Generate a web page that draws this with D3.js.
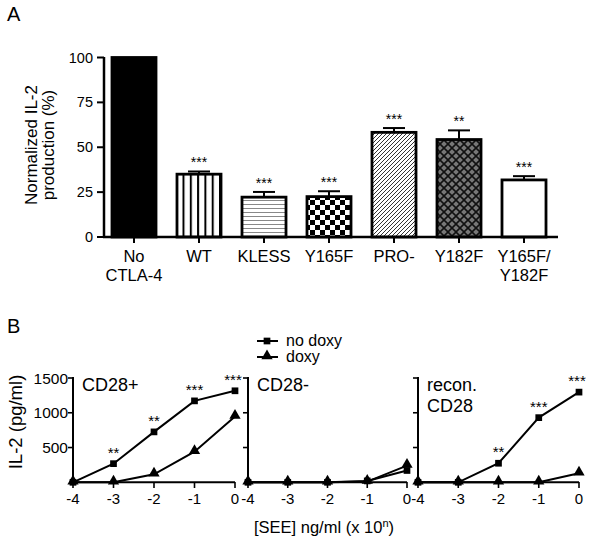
<!DOCTYPE html>
<html><head><meta charset="utf-8">
<script src="https://cdn.jsdelivr.net/npm/d3@7"></script>
<style>body{margin:0;background:#fff}text{font-family:"Liberation Sans",Arial,sans-serif;fill:#000}</style>
</head><body><svg id="c" width="600" height="541"></svg>
<script>
// ---- Panel A data ----
const categories = ["No\nCTLA-4","WT","KLESS","Y165F","PRO-","Y182F","Y165F/\nY182F"];
const values = [100, 35, 22.2, 22.5, 58.3, 54.3, 31.8];
const errors = [0, 1.5, 2.9, 3.0, 2.4, 5.1, 2.1];
const stars = ["", "***", "***", "***", "***", "**", "***"];
const patterns = ["solid","vert","horiz","check","diag","cross","none"];
const yTicksA = [0, 25, 50, 75, 100];

// ---- Panel B data ----
const xB = [-4, -3, -2, -1, 0];
const yTicksB = [500, 1000, 1500];
const panels = ["CD28+", "CD28-", "recon.\nCD28"];
const noDoxy = [
  [0, 268, 725, 1171, 1316],
  [0, 0, 0, 20, 170],
  [0, 0, 274, 930, 1297]
];
const doxy = [
  [0, 0, 115, 441, 945],
  [0, 0, 0, 10, 240],
  [0, 0, 0, 0, 130]
];
const starsB = [
  ["", "**", "**", "***", "***"],
  ["", "", "", "", ""],
  ["", "", "**", "***", "***"]
];

const svg = d3.select("#c");
const defs = svg.append("defs");

function pat(id, w, h, draw){
  const p = defs.append("pattern").attr("id", id).attr("patternUnits","userSpaceOnUse").attr("width", w).attr("height", h);
  draw(p);
}
pat("vert", 7.3, 10, p => {
  p.append("rect").attr("width",7.3).attr("height",10).attr("fill","#fff");
  p.append("rect").attr("x",0).attr("width",2).attr("height",10).attr("fill","#000");
});
pat("horiz", 10, 4, p => {
  p.append("rect").attr("width",10).attr("height",4).attr("fill","#fff");
  p.append("rect").attr("y",0).attr("width",10).attr("height",1).attr("fill","#888");
});
pat("check", 10, 10, p => {
  p.append("rect").attr("width",10).attr("height",10).attr("fill","#fff");
  p.append("rect").attr("width",5).attr("height",5).attr("fill","#000");
  p.append("rect").attr("x",5).attr("y",5).attr("width",5).attr("height",5).attr("fill","#000");
});
pat("diag", 4, 4, p => {
  p.append("rect").attr("width",4).attr("height",4).attr("fill","#fff");
  p.append("path").attr("d","M-1,1 l2,-2 M0,4 l4,-4 M3,5 l2,-2").attr("stroke","#333").attr("stroke-width",1);
});
pat("cross", 8, 8, p => {
  p.append("rect").attr("width",8).attr("height",8).attr("fill","#777");
  p.append("path").attr("d","M0,0 L8,8 M8,0 L0,8").attr("stroke","#111").attr("stroke-width",1.6);
});

const fillFor = k => k === "solid" ? "#000" : k === "none" ? "#fff" : `url(#${k})`;

// ---- Panel A ----
svg.append("text").attr("x", 7).attr("y", 21).attr("font-size", 20).text("A");

const yA = d3.scaleLinear().domain([0, 100]).range([237, 57.5]);
const xA = d3.scaleBand().domain(categories).range([101.5, 556.5]).paddingInner(0.323).paddingOuter(0.1615);

const gA = svg.append("g");
gA.selectAll("rect.bar").data(categories).join("rect")
  .attr("x", d => xA(d)).attr("width", xA.bandwidth())
  .attr("y", (d,i) => yA(values[i])).attr("height", (d,i) => yA(0) - yA(values[i]))
  .attr("fill", (d,i) => fillFor(patterns[i]))
  .attr("stroke", "#000").attr("stroke-width", 2.8);

categories.forEach((c, i) => {
  const cx = xA(c) + xA.bandwidth()/2;
  if (errors[i] > 0) {
    gA.append("line").attr("x1", cx).attr("x2", cx).attr("y1", yA(values[i])).attr("y2", yA(values[i] + errors[i])).attr("stroke","#000").attr("stroke-width",2);
    gA.append("line").attr("x1", cx-11).attr("x2", cx+11).attr("y1", yA(values[i] + errors[i])).attr("y2", yA(values[i] + errors[i])).attr("stroke","#000").attr("stroke-width",2);
  }
  if (stars[i]) {
    gA.append("text").attr("x", cx).attr("y", yA(values[i] + errors[i]) - 4).attr("text-anchor","middle").attr("font-size",14).text(stars[i]);
  }
  c.split("\n").forEach((l, j) => {
    gA.append("text").attr("x", cx).attr("y", 262 + j*19).attr("text-anchor","middle").attr("font-size",16.5).text(l);
  });
  gA.append("line").attr("x1", cx).attr("x2", cx).attr("y1", 237).attr("y2", 243).attr("stroke","#000").attr("stroke-width",2);
});

gA.append("line").attr("x1", 104).attr("x2", 104).attr("y1", 57).attr("y2", 238).attr("stroke","#000").attr("stroke-width",2.5);
gA.append("line").attr("x1", 103).attr("x2", 558).attr("y1", 237).attr("y2", 237).attr("stroke","#000").attr("stroke-width",2.5);
yTicksA.forEach(t => {
  gA.append("line").attr("x1", 97).attr("x2", 104).attr("y1", yA(t)).attr("y2", yA(t)).attr("stroke","#000").attr("stroke-width",2);
  gA.append("text").attr("x", 93).attr("y", yA(t) + 5).attr("text-anchor","end").attr("font-size",14.5).text(t);
});
["Normalized IL-2", "production (%)"].forEach((t, j) => {
  gA.append("text").attr("transform", `translate(${37 + j*17},145) rotate(-90)`).attr("text-anchor","middle").attr("font-size",17).text(t);
});

// ---- Panel B ----
svg.append("text").attr("x", 7).attr("y", 333).attr("font-size", 20).text("B");

const panelX = [[73, 235], [248, 407], [418, 579]];
const yB = d3.scaleLinear().domain([0, 1500]).range([482.3, 378]);
const sqSym = d3.symbol().type(d3.symbolSquare).size(45);
const triSym = d3.symbol().type(d3.symbolTriangle).size(55);

panels.forEach((name, p) => {
  const xs = d3.scaleLinear().domain([-4, 0]).range(panelX[p]);
  const g = svg.append("g");
  g.append("line").attr("x1", panelX[p][0]).attr("x2", panelX[p][0]).attr("y1", 377).attr("y2", 483).attr("stroke","#000").attr("stroke-width",2);
  yTicksB.forEach(t => {
    g.append("line").attr("x1", panelX[p][0]-5).attr("x2", panelX[p][0]).attr("y1", yB(t)).attr("y2", yB(t)).attr("stroke","#000").attr("stroke-width",1.6);
    if (p === 0) g.append("text").attr("x", panelX[p][0]-5).attr("y", yB(t)+5.5).attr("text-anchor","end").attr("font-size",15.5).text(t);
  });
  g.append("line").attr("x1", panelX[p][0]).attr("x2", panelX[p][1]).attr("y1", 482.3).attr("y2", 482.3).attr("stroke","#000").attr("stroke-width",2);
  xB.forEach(v => {
    g.append("line").attr("x1", xs(v)).attr("x2", xs(v)).attr("y1", 482).attr("y2", 488).attr("stroke","#000").attr("stroke-width",1.6);
    g.append("text").attr("x", xs(v)).attr("y", 504).attr("text-anchor","middle").attr("font-size",15).text(v);
  });
  const line = d3.line().x((d,i) => xs(xB[i])).y(d => yB(d));
  g.append("path").attr("d", line(doxy[p])).attr("fill","none").attr("stroke","#000").attr("stroke-width",2);
  g.append("path").attr("d", line(noDoxy[p])).attr("fill","none").attr("stroke","#000").attr("stroke-width",2);
  doxy[p].forEach((d,i) => {
    g.append("path").attr("d", triSym()).attr("transform", `translate(${xs(xB[i])},${yB(d)-1})`).attr("fill","#000");
  });
  noDoxy[p].forEach((d,i) => {
    g.append("path").attr("d", sqSym()).attr("transform", `translate(${xs(xB[i])},${yB(d)})`).attr("fill","#000");
    if (starsB[p][i]) g.append("text").attr("x", xs(xB[i]) - (i===4?2:0)).attr("y", yB(d) - 6).attr("text-anchor","middle").attr("font-size",15).text(starsB[p][i]);
  });
  name.split("\n").forEach((l, j) => {
    g.append("text").attr("x", panelX[p][0] + 9).attr("y", 391 + j*21).attr("font-size",18).text(l);
  });
});

const leg = svg.append("g");
[["no doxy", sqSym], ["doxy", triSym]].forEach((e, i) => {
  const y = 341 + i*16;
  leg.append("line").attr("x1", 257).attr("x2", 278).attr("y1", y).attr("y2", y).attr("stroke","#000").attr("stroke-width",2);
  leg.append("path").attr("d", e[1]()).attr("transform", `translate(267,${y - (i? 1:0)})`).attr("fill","#000");
  leg.append("text").attr("x", 286).attr("y", y + 5).attr("font-size",16).text(e[0]);
});

svg.append("text").attr("transform", "translate(22,422) rotate(-90)").attr("text-anchor","middle").attr("font-size",18.5).text("IL-2 (pg/ml)");
const xt = svg.append("text").attr("x", 324).attr("y", 533).attr("text-anchor","middle").attr("font-size",16.5);
xt.append("tspan").text("[SEE] ng/ml (x 10");
xt.append("tspan").attr("font-size",11).attr("dy",-6).text("n");
xt.append("tspan").attr("dy",6).text(")");
</script></body></html>
